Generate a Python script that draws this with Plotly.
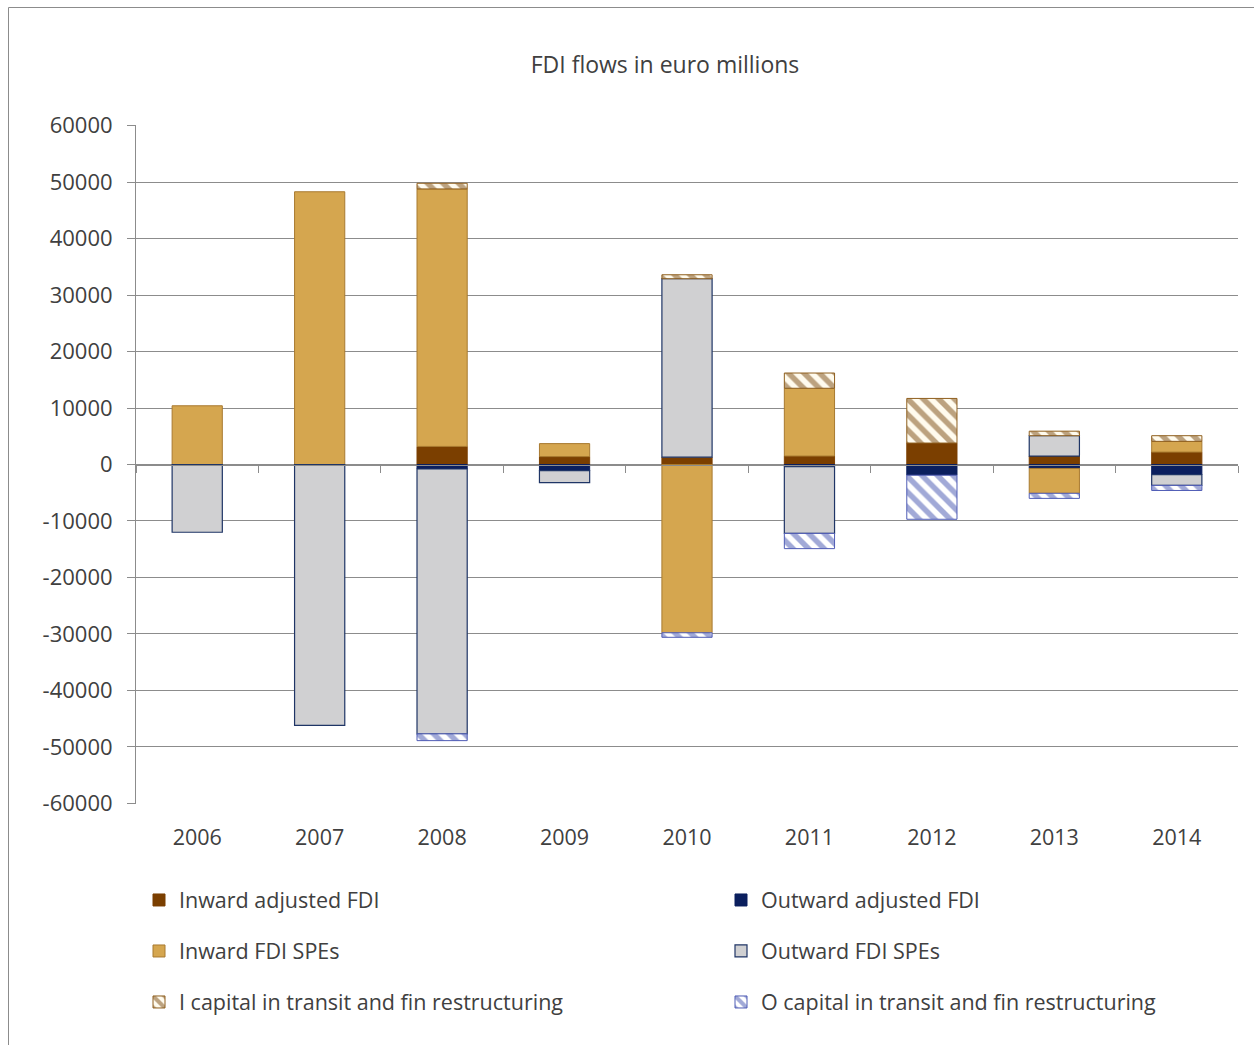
import plotly.graph_objects as go

# FDI flows, euro millions (outward flows shown as negatives)
years = ["2006", "2007", "2008", "2009", "2010", "2011", "2012", "2013", "2014"]
inward_adjusted = [None, None, 3200, 1400, 1300, 1500, 3800, 1500, 2200]
outward_adjusted = [None, None, -800, -1100, None, -400, -1900, -700, -1800]
inward_spes = [10400, 48300, 45600, 2300, -29800, 12000, None, -4400, 1900]
outward_spes = [-12000, -46200, -46900, -2100, 31600, -11800, None, 3600, -1900]
inward_transit = [None, None, 1000, None, 700, 2700, 7900, 800, 1000]
outward_transit = [None, None, -1200, None, -800, -2700, -7800, -900, -900]

y_ticks = list(range(-60000, 60001, 10000))
y_tick_text = [str(v) for v in y_ticks]

FONT = "Open Sans"
TXT = "#404040"
GRID = "#8c8c8c"

W, H = 1254, 1045
L, R, T, B = 136, 1238, 125, 804  # plot area in pixels


def px_x(p):
    return (p - L) / (R - L)


def px_y(p):
    return (B - p) / (B - T)


fig = go.Figure()

# (name, values, marker, legend id, legend x px, legend y px)
series = [
    ("Inward adjusted FDI", inward_adjusted,
     dict(color="#7b3f00", line=dict(color="#7b3f00", width=1)), "legend", 139, 900),
    ("Outward adjusted FDI", outward_adjusted,
     dict(color="#0b1f5e", line=dict(color="#0b1f5e", width=1)), "legend2", 721, 900),
    ("Inward FDI SPEs", inward_spes,
     dict(color="#d5a64f", line=dict(color="#a87a30", width=1)), "legend3", 139, 951),
    ("Outward FDI SPEs", outward_spes,
     dict(color="#d0d0d2", line=dict(color="#1f3566", width=1.2)), "legend4", 721, 951),
    ("I capital in transit and fin restructuring", inward_transit,
     dict(color="#ffffff", line=dict(color="#8f5f1e", width=1),
          pattern=dict(shape="\\", fgcolor="#7a4a10", bgcolor="#fffbee", size=11, solidity=0.5, fillmode="overlay")),
     "legend5", 139, 1002),
    ("O capital in transit and fin restructuring", outward_transit,
     dict(color="#ffffff", line=dict(color="#4f5cb5", width=1),
          pattern=dict(shape="\\", fgcolor="#4353b0", bgcolor="#ffffff", size=11, solidity=0.5, fillmode="overlay")),
     "legend6", 721, 1002),
]

legends = {}
for name, vals, marker, leg, lx, ly in series:
    fig.add_trace(go.Bar(x=years, y=vals, name=name, marker=marker, legend=leg))
    legends[leg] = dict(
        orientation="h",
        font=dict(family=FONT, size=21.5, color=TXT),
        bgcolor="rgba(0,0,0,0)",
        xanchor="left", yanchor="middle",
        itemwidth=30,
        x=px_x(lx), y=px_y(ly),
    )

# helper trace so the category-boundary tick axis at zero is drawn
fig.add_trace(go.Scatter(x=[0], y=[0], xaxis="x2", mode="markers",
                         marker=dict(opacity=0), showlegend=False, hoverinfo="skip"))

fig.update_layout(
    width=W, height=H,
    margin=dict(l=L, r=W - R, t=T, b=H - B),
    paper_bgcolor="white", plot_bgcolor="white",
    barmode="relative", bargap=0.59,
    font=dict(family=FONT, size=21, color=TXT),
    title=dict(text="FDI flows in euro millions", xref="container", x=665 / W, xanchor="center",
               y=1 - 65 / H, yanchor="middle",
               font=dict(family=FONT, size=23, color=TXT)),
    xaxis=dict(
        type="category", showgrid=False, showline=False, ticks="",
        tickfont=dict(family=FONT, size=21.5, color=TXT), ticklabelstandoff=18,
    ),
    xaxis2=dict(
        overlaying="x", anchor="free", position=0.5, side="bottom",
        range=[-0.5, len(years) - 0.5], showgrid=False, zeroline=False,
        showline=True, linecolor=GRID, linewidth=1,
        ticks="outside", ticklen=7, tickcolor=GRID, tickwidth=1,
        tickvals=[i + 0.5 for i in range(-1, len(years))], showticklabels=False,
    ),
    yaxis=dict(
        range=[-60120, 60120], tickvals=y_ticks, ticktext=y_tick_text,
        showgrid=True, gridcolor=GRID, gridwidth=1,
        zeroline=True, zerolinecolor=GRID, zerolinewidth=1,
        showline=True, linecolor=GRID, linewidth=1,
        ticks="outside", ticklen=8, tickcolor=GRID, ticklabelstandoff=10,
        tickfont=dict(family=FONT, size=22, color=TXT),
    ),
    showlegend=True,
    shapes=[
        dict(type="rect", xref="paper", yref="paper",
             x0=px_x(8.5), x1=px_x(1300), y0=px_y(1100), y1=px_y(7.5),
             line=dict(color="#8c8c8c", width=1), fillcolor="rgba(0,0,0,0)", layer="below"),
    ],
    **legends,
)

fig.write_html("out.html")
